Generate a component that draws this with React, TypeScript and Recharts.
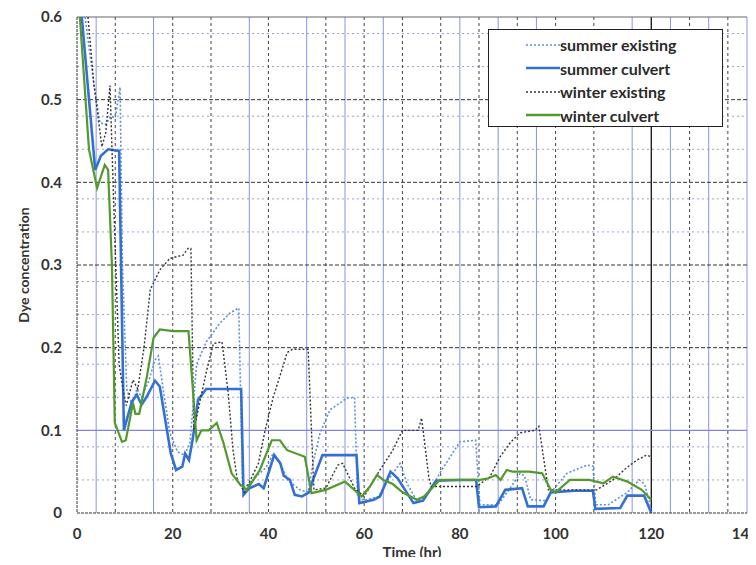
import { LineChart, Line, XAxis, YAxis, CartesianGrid, ReferenceLine } from 'recharts';

// hours / dye concentration
const summerExistingT = [1.7, 3.5, 4.8, 6, 7, 8, 9, 9.5, 10.4, 11.5, 12.5, 13.5, 15, 16.3, 17, 18, 19.4, 21, 22.5, 23.6, 25, 27, 29.9, 32, 33.8, 34.6, 36, 37.6, 39.5, 41, 42.5, 44, 46.6, 48.3, 49.3, 50.8, 52.9, 56.4, 58, 58.6, 60, 63, 65, 67.5, 69, 71, 73, 76, 80, 83.3, 84.2, 88, 90.5, 92.6, 93.5, 94.8, 98, 99.5, 102.4, 106.6, 107.8, 108.4, 111, 115, 117.5, 118.6, 120];
const summerExistingV = [0.6, 0.52, 0.472, 0.47, 0.48, 0.478, 0.515, 0.3, 0.15, 0.13, 0.15, 0.14, 0.16, 0.185, 0.19, 0.15, 0.097, 0.074, 0.07, 0.085, 0.18, 0.207, 0.23, 0.242, 0.248, 0.03, 0.035, 0.045, 0.055, 0.072, 0.06, 0.04, 0.028, 0.025, 0.06, 0.097, 0.125, 0.139, 0.14, 0.02, 0.015, 0.02, 0.04, 0.06, 0.035, 0.015, 0.02, 0.05, 0.086, 0.088, 0.01, 0.01, 0.03, 0.048, 0.045, 0.016, 0.015, 0.028, 0.048, 0.058, 0.057, 0.01, 0.01, 0.025, 0.04, 0.035, 0.005];

const summerCulvertT = [1, 3.8, 5, 6.5, 8.8, 9.8, 10.5, 11.5, 12.5, 13.5, 14.5, 16.3, 17.3, 18.8, 19.6, 20.7, 22, 22.6, 23.4, 24.2, 25.3, 27, 30, 34.3, 34.8, 36, 38, 39, 41.2, 42.5, 43.2, 44.5, 45.5, 47, 48.5, 49.3, 51.3, 55, 58.4, 59, 62, 63.3, 65.5, 67, 70.3, 72.3, 75, 80, 83.4, 84, 87.5, 89.5, 93, 94.2, 97.5, 99, 104, 107.8, 108.3, 113.5, 115, 118.5, 120];
const summerCulvertV = [0.6, 0.415, 0.432, 0.44, 0.438, 0.1, 0.115, 0.135, 0.143, 0.131, 0.14, 0.16, 0.153, 0.1, 0.072, 0.052, 0.056, 0.072, 0.064, 0.09, 0.137, 0.15, 0.15, 0.15, 0.022, 0.03, 0.035, 0.03, 0.07, 0.06, 0.045, 0.04, 0.022, 0.02, 0.025, 0.04, 0.07, 0.07, 0.07, 0.012, 0.016, 0.02, 0.05, 0.042, 0.012, 0.015, 0.039, 0.04, 0.04, 0.007, 0.008, 0.028, 0.03, 0.008, 0.008, 0.025, 0.027, 0.027, 0.005, 0.006, 0.021, 0.021, 0];

const winterExistingT = [2.3, 3.5, 5.2, 6, 6.9, 7.8, 8.8, 9.6, 10.3, 11.7, 12.7, 14, 15.3, 17.3, 19.4, 22.2, 23.2, 23.8, 24.4, 25.5, 27, 28.5, 30.3, 31.6, 32.6, 33.5, 35, 37.9, 39.3, 41, 42.8, 43.9, 45, 48.3, 49.5, 52, 54.5, 55.5, 58, 60, 63.3, 66, 68, 71.3, 72, 73.5, 74, 80, 83.5, 86.3, 88.4, 90.5, 92.6, 95.7, 96.5, 98.5, 103, 108.6, 112, 114.9, 117, 119, 120];
const winterExistingV = [0.6, 0.52, 0.443, 0.46, 0.517, 0.35, 0.18, 0.15, 0.13, 0.161, 0.15, 0.2, 0.27, 0.294, 0.308, 0.312, 0.32, 0.32, 0.1, 0.13, 0.17, 0.205, 0.207, 0.145, 0.076, 0.04, 0.025, 0.06, 0.1, 0.14, 0.173, 0.194, 0.198, 0.198, 0.028, 0.03, 0.058, 0.06, 0.03, 0.02, 0.052, 0.076, 0.1, 0.1, 0.115, 0.044, 0.032, 0.032, 0.032, 0.044, 0.068, 0.085, 0.097, 0.1, 0.105, 0.028, 0.028, 0.028, 0.04, 0.055, 0.064, 0.07, 0.068];

const winterCulvertT = [0.6, 2.5, 4.2, 5.8, 6.5, 7.3, 7.9, 9.4, 10.2, 11.7, 12.2, 13, 14.6, 16, 17.3, 20, 23.3, 25, 26, 27.5, 29.2, 30.6, 32.3, 34, 35.5, 38.2, 40.7, 42.4, 43.9, 47.6, 49, 52, 56, 59.5, 61.2, 62.7, 64, 66, 68, 71, 72.5, 75.8, 84.2, 86, 87.5, 88.5, 89.8, 91, 94.5, 97.2, 99, 100, 103, 107, 110, 112, 115, 118, 120];
const winterCulvertV = [0.6, 0.44, 0.393, 0.421, 0.415, 0.3, 0.109, 0.086, 0.088, 0.133, 0.12, 0.12, 0.165, 0.212, 0.222, 0.22, 0.22, 0.088, 0.1, 0.1, 0.109, 0.085, 0.048, 0.035, 0.028, 0.052, 0.088, 0.088, 0.076, 0.068, 0.024, 0.028, 0.038, 0.02, 0.032, 0.046, 0.04, 0.035, 0.025, 0.016, 0.02, 0.04, 0.04, 0.042, 0.046, 0.04, 0.052, 0.05, 0.05, 0.048, 0.028, 0.025, 0.04, 0.04, 0.036, 0.044, 0.038, 0.028, 0.016];

const xTicks = [0, 20, 40, 60, 80, 100, 120, 140];
const yTicks = [0, 0.1, 0.2, 0.3, 0.4, 0.5, 0.6];
const yMinor = [0.02, 0.04, 0.06, 0.08, 0.12, 0.14, 0.16, 0.18, 0.22, 0.24, 0.26, 0.28, 0.32, 0.34, 0.36, 0.38, 0.42, 0.44, 0.46, 0.48, 0.52, 0.54, 0.56, 0.58];
const xBlue = [4, 12, 16, 32, 36, 44, 48, 56, 64, 80, 88, 96, 112, 116, 124, 132, 140];
const xDark = [8, 20, 24, 28, 40, 52, 60, 68, 72, 76, 84, 92, 100, 104, 108, 128, 136];

const toPoints = (t: number[], v: number[]) => t.map((x, i) => ({ t: x, v: v[i] }));

const series = [
  { name: 'summer existing', data: toPoints(summerExistingT, summerExistingV), color: '#5a8fe0', width: 1.6, dash: '2 2' },
  { name: 'summer culvert', data: toPoints(summerCulvertT, summerCulvertV), color: '#3470d4', width: 2.6, dash: undefined },
  { name: 'winter existing', data: toPoints(winterExistingT, winterExistingV), color: '#333333', width: 1.4, dash: '2 2' },
  { name: 'winter culvert', data: toPoints(winterCulvertT, winterCulvertV), color: '#529a2c', width: 2.2, dash: undefined },
];

const font = 'Lato, "Open Sans", sans-serif';

const LegendBox = () => (
  <div style={{ position: 'absolute', left: 488, top: 29, border: '1.5px solid #222', background: '#fff', width: 235, height: 98, boxSizing: 'border-box', padding: '3px 0 0 37px', fontFamily: font }}>
    {series.map((s) => (
      <div key={s.name} style={{ display: 'flex', alignItems: 'center', height: 23.5 }}>
        <svg width={34} height={6}>
          <line x1={0} y1={3} x2={34} y2={3} stroke={s.color} strokeWidth={s.dash ? 1.6 : 2.6} strokeDasharray={s.dash} />
        </svg>
        <span style={{ fontSize: 16, fontWeight: 700, color: '#2a2a2a' }}>{s.name}</span>
      </div>
    ))}
  </div>
);

export default function App() {
  return (
    <div style={{ margin: -8, width: 756, height: 565, position: 'relative', background: '#fff', overflow: 'hidden' }}>
      <div style={{ position: 'absolute', left: 0, top: 0, width: 8, height: 565, background: '#1f3d6d' }} />
      <div style={{ position: 'absolute', left: 0, top: 0, width: 756, height: 4, background: '#24436f' }} />
      <LineChart width={756} height={565} data={[]} margin={{ top: 17, right: 9, left: 17, bottom: 0 }}>
        <CartesianGrid horizontal horizontalValues={yMinor} vertical={false} stroke="#9aa0cc" strokeDasharray="2 3" strokeWidth={1} />
        <CartesianGrid horizontal={false} vertical verticalValues={xBlue} stroke="#8a93e6" strokeWidth={1} />
        <CartesianGrid horizontal={false} vertical verticalValues={xDark} stroke="#444" strokeDasharray="3 3" strokeWidth={1} />
        <ReferenceLine x={120} stroke="#111" strokeWidth={1.3} />
        <ReferenceLine y={0.1} stroke="#8282e0" strokeWidth={1.3} />
        <ReferenceLine y={0.2} stroke="#333" strokeDasharray="4 2" />
        <ReferenceLine y={0.3} stroke="#333" strokeDasharray="4 2" />
        <ReferenceLine y={0.4} stroke="#333" strokeDasharray="4 2" />
        <ReferenceLine y={0.5} stroke="#333" strokeDasharray="4 2" />
        <ReferenceLine y={0.6} stroke="#666" strokeWidth={1.2} />
        <XAxis
          type="number"
          dataKey="t"
          domain={[0, 140]}
          ticks={xTicks}
          height={52}
          tickLine={false}
          tickSize={6}
          tickMargin={9}
          axisLine={{ stroke: '#333', strokeDasharray: '3 1' }}
          tick={{ fontSize: 15, fontWeight: 700, fill: '#333', fontFamily: font }}
          label={{ value: 'Time (hr)', position: 'insideBottom', offset: 7, style: { fontSize: 15, fontWeight: 700, fill: '#333', fontFamily: font } }}
        />
        <YAxis
          type="number"
          domain={[0, 0.6]}
          ticks={yTicks}
          width={60}
          tickLine={false}
          tickSize={0}
          tickMargin={15}
          axisLine={{ stroke: '#333', strokeDasharray: '3 1' }}
          tick={{ fontSize: 15, fontWeight: 700, fill: '#333', fontFamily: font }}
          label={{ value: 'Dye concentration', angle: -90, position: 'insideLeft', offset: 7, style: { textAnchor: 'middle', fontSize: 14, fontWeight: 700, fill: '#333', fontFamily: font } }}
        />
        {series.map((s) => (
          <Line
            key={s.name}
            data={s.data}
            dataKey="v"
            name={s.name}
            type="linear"
            stroke={s.color}
            strokeWidth={s.width}
            strokeDasharray={s.dash}
            dot={false}
            activeDot={false}
            isAnimationActive={false}
          />
        ))}
      </LineChart>
      <LegendBox />
    </div>
  );
}
